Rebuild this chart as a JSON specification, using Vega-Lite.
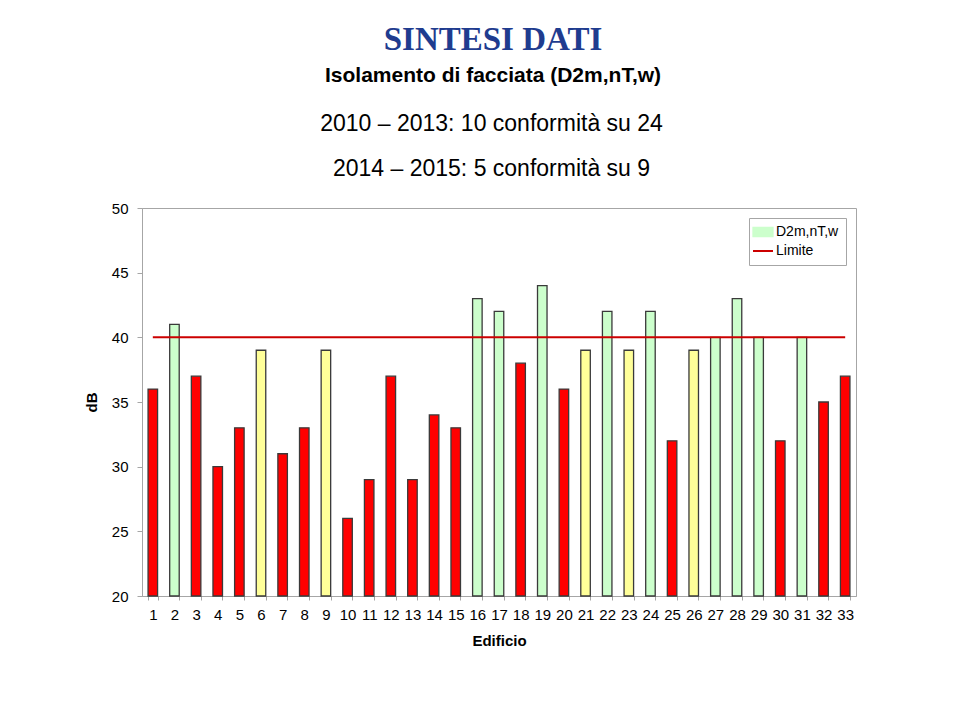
{
  "$schema": "https://vega.github.io/schema/vega-lite/v6.json",
  "autosize": "none",
  "width": 714,
  "height": 388,
  "padding": {"left": 142, "top": 208, "right": 104, "bottom": 127},
  "background": "white",
  "config": {
    "font": "Liberation Sans",
    "view": {"stroke": "#a6a6a6", "strokeWidth": 1}
  },
  "title": {
    "text": "SINTESI DATI",
    "subtitle": "Isolamento di facciata (D2m,nT,w)",
    "anchor": "middle",
    "font": "Liberation Serif",
    "fontSize": 33,
    "fontWeight": "bold",
    "color": "#1f3c8f",
    "subtitleFont": "Liberation Sans",
    "subtitleFontSize": 21,
    "subtitleFontWeight": "bold",
    "subtitleColor": "#000000",
    "subtitlePadding": 8,
    "offset": 26,
    "dx": -6
  },
  "data": {
    "values": [
      {"Edificio": 1, "dB": 36, "Categoria": "non conforme", "Limite": 40},
      {"Edificio": 2, "dB": 41, "Categoria": "D2m,nT,w", "Limite": 40},
      {"Edificio": 3, "dB": 37, "Categoria": "non conforme", "Limite": 40},
      {"Edificio": 4, "dB": 30, "Categoria": "non conforme", "Limite": 40},
      {"Edificio": 5, "dB": 33, "Categoria": "non conforme", "Limite": 40},
      {"Edificio": 6, "dB": 39, "Categoria": "tolleranza", "Limite": 40},
      {"Edificio": 7, "dB": 31, "Categoria": "non conforme", "Limite": 40},
      {"Edificio": 8, "dB": 33, "Categoria": "non conforme", "Limite": 40},
      {"Edificio": 9, "dB": 39, "Categoria": "tolleranza", "Limite": 40},
      {"Edificio": 10, "dB": 26, "Categoria": "non conforme", "Limite": 40},
      {"Edificio": 11, "dB": 29, "Categoria": "non conforme", "Limite": 40},
      {"Edificio": 12, "dB": 37, "Categoria": "non conforme", "Limite": 40},
      {"Edificio": 13, "dB": 29, "Categoria": "non conforme", "Limite": 40},
      {"Edificio": 14, "dB": 34, "Categoria": "non conforme", "Limite": 40},
      {"Edificio": 15, "dB": 33, "Categoria": "non conforme", "Limite": 40},
      {"Edificio": 16, "dB": 43, "Categoria": "D2m,nT,w", "Limite": 40},
      {"Edificio": 17, "dB": 42, "Categoria": "D2m,nT,w", "Limite": 40},
      {"Edificio": 18, "dB": 38, "Categoria": "non conforme", "Limite": 40},
      {"Edificio": 19, "dB": 44, "Categoria": "D2m,nT,w", "Limite": 40},
      {"Edificio": 20, "dB": 36, "Categoria": "non conforme", "Limite": 40},
      {"Edificio": 21, "dB": 39, "Categoria": "tolleranza", "Limite": 40},
      {"Edificio": 22, "dB": 42, "Categoria": "D2m,nT,w", "Limite": 40},
      {"Edificio": 23, "dB": 39, "Categoria": "tolleranza", "Limite": 40},
      {"Edificio": 24, "dB": 42, "Categoria": "D2m,nT,w", "Limite": 40},
      {"Edificio": 25, "dB": 32, "Categoria": "non conforme", "Limite": 40},
      {"Edificio": 26, "dB": 39, "Categoria": "tolleranza", "Limite": 40},
      {"Edificio": 27, "dB": 40, "Categoria": "D2m,nT,w", "Limite": 40},
      {"Edificio": 28, "dB": 43, "Categoria": "D2m,nT,w", "Limite": 40},
      {"Edificio": 29, "dB": 40, "Categoria": "D2m,nT,w", "Limite": 40},
      {"Edificio": 30, "dB": 32, "Categoria": "non conforme", "Limite": 40},
      {"Edificio": 31, "dB": 40, "Categoria": "D2m,nT,w", "Limite": 40},
      {"Edificio": 32, "dB": 35, "Categoria": "non conforme", "Limite": 40},
      {"Edificio": 33, "dB": 37, "Categoria": "non conforme", "Limite": 40}
    ]
  },
  "resolve": {"axis": {"x": "independent"}},
  "layer": [
    {
      "mark": {"type": "bar", "strokeWidth": 1.3, "strokeOpacity": 1},
      "encoding": {
        "x": {
          "field": "Edificio",
          "type": "ordinal",
          "scale": {"paddingInner": 0.56, "paddingOuter": 0.28},
          "axis": {
            "title": "Edificio",
            "titleFontSize": 15,
            "titleFontWeight": "bold",
            "titlePadding": 11,
            "labelAngle": 0,
            "labelFontSize": 15,
            "labelColor": "#000000",
            "labelPadding": 7,
            "tickBand": "extent",
            "tickSize": 4,
            "tickColor": "#a6a6a6",
            "domainColor": "#a6a6a6"
          }
        },
        "y": {
          "field": "dB",
          "type": "quantitative",
          "scale": {"domain": [20, 50], "nice": false, "zero": false},
          "axis": {
            "title": "dB",
            "titleFontSize": 15,
            "titleFontWeight": "bold",
            "titlePadding": 12,
            "values": [20, 25, 30, 35, 40, 45, 50],
            "grid": false,
            "labelFontSize": 15,
            "labelColor": "#000000",
            "labelPadding": 9,
            "tickSize": 5,
            "tickColor": "#a6a6a6",
            "domainColor": "#a6a6a6"
          }
        },
        "y2": {"datum": 20},
        "stroke": {"value": "#3a3a3a"},
        "color": {
          "field": "Categoria",
          "type": "nominal",
          "scale": {
            "domain": ["D2m,nT,w", "Limite", "non conforme", "tolleranza"],
            "range": ["#ccffcc", "#cc0000", "#ff0000", "#ffff99"]
          },
          "legend": {
            "title": null,
            "values": ["D2m,nT,w", "Limite"],
            "orient": "top-right",
            "offset": 10,
            "padding": 7,
            "strokeColor": "#a6a6a6",
            "fillColor": "#ffffff",
            "labelFontSize": 14,
            "labelColor": "#000000",
            "labelOffset": 6,
            "rowPadding": 4,
            "symbolSize": 400,
            "encode": {
              "symbols": {
                "update": {
                  "shape": {"signal": "datum.value === 'Limite' ? 'stroke' : 'M-1,-0.45H1V0.45H-1Z'"},
                  "fill": {"signal": "datum.value === 'Limite' ? 'transparent' : '#ccffcc'"},
                  "stroke": {"signal": "datum.value === 'Limite' ? '#cc0000' : '#3a3a3a'"},
                  "strokeWidth": {"signal": "datum.value === 'Limite' ? 2 : 1.3"},
                  "opacity": {"value": 1}
                }
              }
            }
          }
        }
      }
    },
    {
      "mark": {"type": "line", "strokeWidth": 2},
      "encoding": {
        "x": {
          "field": "Edificio",
          "type": "ordinal",
          "axis": {
            "orient": "top",
            "labels": false,
            "ticks": false,
            "domain": false,
            "title": ["2010 – 2013: 10 conformità su 24", "2014 – 2015: 5 conformità su 9"],
            "titleFontSize": 23,
            "titleFontWeight": "normal",
            "titleLineHeight": 45,
            "titlePadding": 28,
            "titleX": 349,
            "titleColor": "#000000"
          }
        },
        "y": {"field": "Limite", "type": "quantitative"},
        "color": {
          "datum": "Limite",
          "legend": {
            "title": null,
            "values": ["D2m,nT,w", "Limite"],
            "orient": "top-right",
            "offset": 10,
            "padding": 7,
            "strokeColor": "#a6a6a6",
            "fillColor": "#ffffff",
            "labelFontSize": 14,
            "labelColor": "#000000",
            "labelOffset": 6,
            "rowPadding": 4,
            "symbolSize": 400,
            "encode": {
              "symbols": {
                "update": {
                  "shape": {"signal": "datum.value === 'Limite' ? 'stroke' : 'M-1,-0.45H1V0.45H-1Z'"},
                  "fill": {"signal": "datum.value === 'Limite' ? 'transparent' : '#ccffcc'"},
                  "stroke": {"signal": "datum.value === 'Limite' ? '#cc0000' : '#3a3a3a'"},
                  "strokeWidth": {"signal": "datum.value === 'Limite' ? 2 : 1.3"},
                  "opacity": {"value": 1}
                }
              }
            }
          }
        }
      }
    }
  ]
}
